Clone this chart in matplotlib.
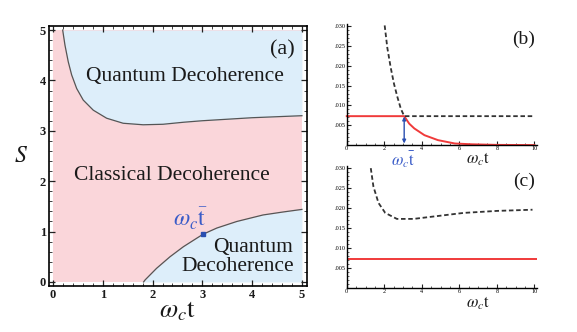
import numpy as np
import matplotlib
matplotlib.use("Agg")
import matplotlib.pyplot as plt
from matplotlib.ticker import MultipleLocator

plt.rcParams['font.family'] = ['Liberation Serif', 'DejaVu Serif']
plt.rcParams['mathtext.fontset'] = 'stix'

# panel (a): phase boundaries (omega_c t, S)
upper_x = [0.195, 0.241, 0.307, 0.375, 0.476, 0.608, 0.809, 1.078, 1.41, 1.81,
           2.21, 2.62, 3.0, 3.5, 4.0, 4.5, 5.0]
upper_s = [5.0, 4.70, 4.37, 4.11, 3.84, 3.61, 3.41, 3.25, 3.15, 3.12,
           3.13, 3.17, 3.20, 3.23, 3.26, 3.28, 3.30]
lower_x = [1.82, 1.85, 2.08, 2.35, 2.62, 2.89, 3.02, 3.29, 3.69, 4.22, 4.63, 5.0]
lower_s = [0.0, 0.04, 0.27, 0.50, 0.70, 0.87, 0.95, 1.07, 1.20, 1.33, 1.39, 1.44]
tbar = (3.02, 0.95)

# panel (b)
b_dash_x = [2.02, 2.16, 2.34, 2.52, 2.70, 2.88, 3.06, 10.0]
b_dash_y = [0.0302, 0.0246, 0.0196, 0.0154, 0.0121, 0.0092, 0.0073, 0.0073]
b_red_x = [0.0, 3.06, 3.33, 3.6, 4.14, 4.86, 5.76, 6.66, 8.0, 10.0]
b_red_y = [0.0073, 0.0073, 0.0054, 0.0042, 0.0025, 0.00125, 0.0004, 0.0002, 0.00005, 0.0]

# panel (c)
c_dash_x = [1.28, 1.42, 1.69, 2.05, 2.67, 3.56, 4.45, 6.23, 8.0, 9.9]
c_dash_y = [0.030, 0.0254, 0.0213, 0.0188, 0.0173, 0.0173, 0.0178, 0.0188, 0.0193, 0.0196]
c_red_y = 0.0073

pink = '#fad6da'
blue_fill = '#ddeefa'
red = '#f03a3a'
dash_col = '#333333'
label_blue = '#3a5cc8'
txt = '#1a1a1a'

fig = plt.figure(figsize=(5.77, 3.32), dpi=100)

# ---------- (a)
ax = fig.add_axes([0.0849, 0.1386, 0.447, 0.783])
ax.fill_between([0, 5], 0, 5, color=pink, lw=0)
ax.fill_between(upper_x, upper_s, 5, color=blue_fill, lw=0)
ax.fill_between(lower_x, 0, lower_s, color=blue_fill, lw=0)
ax.plot(upper_x, upper_s, color='#555555', lw=0.9)
ax.plot(lower_x, lower_s, color='#555555', lw=0.9)
ax.plot(*tbar, 's', color='#2a4fb0', ms=3)
ax.set_xlim(-0.08, 5.1)
ax.set_ylim(-0.08, 5.08)
ax.xaxis.set_major_locator(MultipleLocator(1))
ax.xaxis.set_minor_locator(MultipleLocator(0.2))
ax.yaxis.set_major_locator(MultipleLocator(1))
ax.yaxis.set_minor_locator(MultipleLocator(0.2))
ax.tick_params(which='both', direction='in', top=True, right=True, color='#222222')
ax.tick_params(which='major', length=4, width=0.9, labelsize=9, pad=2, labelcolor=txt)
ax.tick_params(which='minor', length=2, width=0.6)
for lab in ax.get_xticklabels() + ax.get_yticklabels():
    lab.set_fontweight('bold')
for sp in ax.spines.values():
    sp.set_linewidth(1.2)
ax.text(2.65, 4.07, 'Quantum Decoherence', fontsize=15.5, ha='center', va='center', color=txt)
ax.text(2.39, 2.12, 'Classical Decoherence', fontsize=15.5, ha='center', va='center', color=txt)
ax.text(4.02, 0.69, 'Quantum', fontsize=15.5, ha='center', va='center', color=txt)
ax.text(3.71, 0.30, 'Decoherence', fontsize=15.5, ha='center', va='center', color=txt)
ax.text(2.75, 1.25, r'$\omega_c\bar{\mathrm{t}}$', fontsize=17, ha='center', va='center', color=label_blue)
ax.text(4.6, 4.6, '(a)', fontsize=16, ha='center', va='center', color=txt)
ax.set_xlabel(r'$\omega_c \mathrm{t}$', fontsize=19, labelpad=-1, color=txt)
ax.set_ylabel(r'$S$', fontsize=17, rotation=0, labelpad=14, va='center', color=txt)


def small_axes(rect):
    a = fig.add_axes(rect)
    a.set_xlim(0, 10.15)
    a.set_ylim(0, 0.0305)
    for s in ('top', 'right'):
        a.spines[s].set_visible(False)
    a.spines['left'].set_linewidth(1.0)
    a.spines['bottom'].set_linewidth(1.0)
    a.xaxis.set_major_locator(MultipleLocator(2))
    a.xaxis.set_minor_locator(MultipleLocator(0.5))
    a.set_yticks([0.005, 0.010, 0.015, 0.020, 0.025, 0.030])
    a.set_yticklabels(['.005', '.010', '.015', '.020', '.025', '.030'])
    a.yaxis.set_minor_locator(MultipleLocator(0.001))
    a.tick_params(which='both', direction='in', color='#222222')
    a.tick_params(which='major', length=3, width=0.8, labelsize=4.5, pad=1)
    a.tick_params(which='minor', length=1.5, width=0.5)
    a.patch.set_alpha(0)
    return a


# ---------- (b)
bx = small_axes([0.601, 0.563, 0.33, 0.364])
bx.plot(b_red_x, b_red_y, color=red, lw=1.4, clip_on=False)
bx.plot(b_dash_x, b_dash_y, color=dash_col, lw=1.3, ls=(0, (2.5, 1.5)), clip_on=False)
bx.annotate('', xy=(3.06, 0.0004), xytext=(3.06, 0.0072),
            arrowprops=dict(arrowstyle='<|-|>', color='#2a4fb0', lw=1.0,
                            mutation_scale=5, shrinkA=0, shrinkB=0))
bx.text(9.45, 0.0268, '(b)', fontsize=14, ha='center', va='center', color=txt)
bx.text(3.0, -0.0036, r'$\omega_c\bar{\mathrm{t}}$', fontsize=12, ha='center', va='center',
        color=label_blue, clip_on=False)
bx.text(7.0, -0.0036, r'$\omega_c \mathrm{t}$', fontsize=12, ha='center', va='center',
        color=txt, clip_on=False)

# ---------- (c)
cx = small_axes([0.601, 0.1325, 0.33, 0.367])
cx.plot([0, 10.15], [c_red_y, c_red_y], color=red, lw=1.4)
cx.plot(c_dash_x, c_dash_y, color=dash_col, lw=1.3, ls=(0, (2.5, 1.5)), clip_on=False)
cx.text(9.45, 0.0268, '(c)', fontsize=14, ha='center', va='center', color=txt)
cx.text(7.0, -0.0038, r'$\omega_c \mathrm{t}$', fontsize=12, ha='center', va='center',
        color=txt, clip_on=False)

fig.savefig('out.png', dpi=100)
